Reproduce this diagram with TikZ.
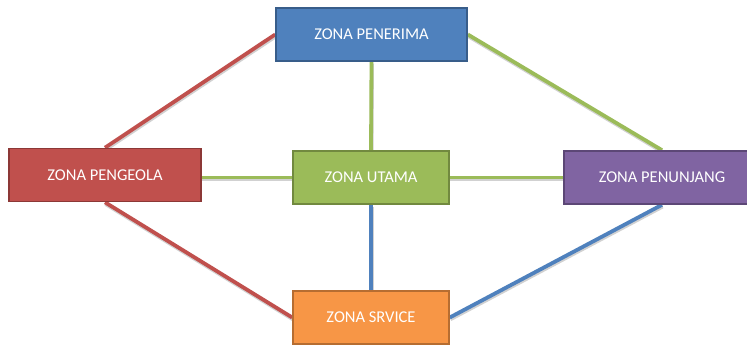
\documentclass[tikz,border=0pt]{standalone}
\usepackage{fontspec}
\setmainfont{Carlito}
\usetikzlibrary{backgrounds}
\definecolor{zblue}{HTML}{4F81BD}
\definecolor{zblueb}{HTML}{385D8A}
\definecolor{zred}{HTML}{C0504D}
\definecolor{zredb}{HTML}{8C3836}
\definecolor{zgreen}{HTML}{9BBB59}
\definecolor{zgreenb}{HTML}{71893F}
\definecolor{zpurple}{HTML}{8064A2}
\definecolor{zpurpleb}{HTML}{5C4776}
\definecolor{zorange}{HTML}{F79646}
\definecolor{zorangeb}{HTML}{B66D31}
\begin{document}
\begin{tikzpicture}[x=1pt,y=-1pt,
  zone/.style={draw, line width=1.6pt, text=white, font=\fontsize{16.5}{18}\selectfont,
    inner sep=0pt, minimum height=53pt},
  link/.style={line width=3.8pt,
    preaction={draw=black, opacity=0.18, line width=3.8pt, transform canvas={shift={(0.6pt,-1.8pt)}}}}]
\useasboundingbox (0,0) rectangle (747,347);
% zones
\node[zone, fill=zblue, draw=zblueb, minimum width=191pt] (pen) at (371.5,34.5) {ZONA PENERIMA};
\node[zone, fill=zred, draw=zredb, minimum width=192pt] (peng) at (105,175) {ZONA PENGEOLA};
\node[zone, fill=zgreen, draw=zgreenb, minimum width=156pt] (uta) at (371,177.5) {ZONA UTAMA};
\node[zone, fill=zorange, draw=zorangeb, minimum width=156pt] (srv) at (371,317.5) {ZONA SRVICE};
\node[zone, fill=zpurple, draw=zpurpleb, minimum width=196pt] (pnj) at (662,177.5) {ZONA PENUNJANG};
% connectors behind the zones
\begin{scope}[on background layer]
  \fill[white] (0,0) rectangle (747,347);
  \draw[link, zred] (pen.west) -- (peng.north);
  \draw[link, zred] (peng.south) -- (srv.west);
  \draw[link, zgreen] (pen.east) -- (pnj.north);
  \draw[link, zblue] (srv.east) -- (pnj.south);
  \draw[link, zgreen] (pen.south) -- (uta.north);
  \draw[link, zgreen] (uta.west -| peng.east) -- (uta.west);
  \draw[link, zgreen] (uta.east) -- (pnj.west);
  \draw[link, zblue] (uta.south) -- (srv.north);
\end{scope}
\end{tikzpicture}
\end{document}
